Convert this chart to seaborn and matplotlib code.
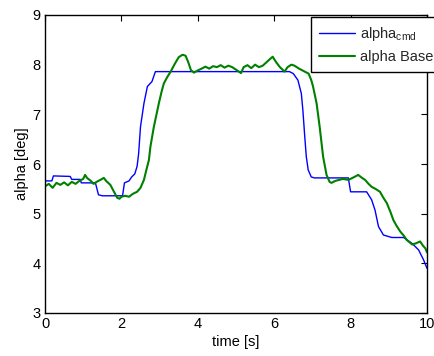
import matplotlib
matplotlib.use("Agg")
import matplotlib.pyplot as plt
import seaborn as sns
import pandas as pd

# ---- data ----
t_cmd = [0.0, 0.18, 0.22, 0.66, 0.70, 0.92, 0.95, 1.32, 1.40, 1.50, 2.03, 2.08, 2.20, 2.27,
         2.35, 2.41, 2.45, 2.50, 2.59, 2.68, 2.80, 2.89, 6.40, 6.50, 6.62, 6.71, 6.75, 6.80,
         6.84, 6.89, 6.97, 7.05, 7.94, 8.00, 8.42, 8.55, 8.64, 8.73, 8.86, 9.08, 9.39, 9.50,
         9.61, 9.78, 9.91, 10.0]
alpha_cmd = [5.66, 5.66, 5.76, 5.75, 5.69, 5.69, 5.62, 5.62, 5.38, 5.36, 5.36, 5.62, 5.66, 5.74,
             5.80, 5.95, 6.20, 6.75, 7.22, 7.56, 7.66, 7.86, 7.86, 7.82, 7.69, 7.42, 7.09, 6.55,
             6.15, 5.88, 5.74, 5.72, 5.72, 5.44, 5.44, 5.28, 5.07, 4.74, 4.57, 4.52, 4.52, 4.46,
             4.40, 4.27, 4.07, 3.90]

t_base = [0.0, 0.1, 0.2, 0.3, 0.4, 0.5, 0.6, 0.7, 0.8, 0.9, 1.0, 1.05, 1.1, 1.2, 1.27, 1.35,
          1.45, 1.54, 1.6, 1.71, 1.8, 1.89, 1.95, 2.0, 2.1, 2.2, 2.3, 2.41, 2.5, 2.59, 2.66,
          2.72, 2.76, 2.85, 2.98, 3.05, 3.11, 3.2, 3.29, 3.4, 3.5, 3.6, 3.68, 3.75, 3.82, 3.9,
          3.99, 4.1, 4.2, 4.3, 4.4, 4.5, 4.6, 4.7, 4.8, 4.9, 5.0, 5.13, 5.2, 5.3, 5.4, 5.5,
          5.6, 5.7, 5.8, 5.9, 5.96, 6.05, 6.15, 6.27, 6.35, 6.45, 6.53, 6.65, 6.8, 6.9, 6.97,
          7.02, 7.11, 7.19, 7.28, 7.37, 7.45, 7.5, 7.6, 7.7, 7.8, 7.94, 8.05, 8.2, 8.3, 8.38,
          8.47, 8.55, 8.65, 8.77, 8.85, 8.95, 9.05, 9.12, 9.2, 9.3, 9.4, 9.47, 9.55, 9.61,
          9.7, 9.82, 9.9, 9.96, 10.0]
alpha_base = [5.55, 5.60, 5.52, 5.62, 5.58, 5.63, 5.57, 5.64, 5.60, 5.66, 5.70, 5.78, 5.72, 5.66,
              5.60, 5.64, 5.68, 5.72, 5.66, 5.58, 5.45, 5.32, 5.30, 5.34, 5.36, 5.34, 5.40, 5.44,
              5.52, 5.68, 5.90, 6.08, 6.35, 6.75, 7.22, 7.45, 7.62, 7.75, 7.86, 8.02, 8.15, 8.20,
              8.18, 8.05, 7.89, 7.84, 7.88, 7.92, 7.96, 7.92, 7.97, 7.95, 7.99, 7.94, 7.98, 7.95,
              7.90, 7.83, 7.95, 7.99, 7.93, 8.00, 7.95, 7.98, 8.05, 8.12, 8.16, 8.05, 7.95, 7.86,
              7.95, 8.00, 7.98, 7.92, 7.86, 7.82, 7.69, 7.55, 7.22, 6.75, 6.15, 5.78, 5.64, 5.62,
              5.66, 5.68, 5.70, 5.68, 5.72, 5.78, 5.72, 5.68, 5.60, 5.54, 5.50, 5.44, 5.33, 5.21,
              5.02, 4.87, 4.76, 4.64, 4.55, 4.47, 4.42, 4.38, 4.40, 4.44, 4.35, 4.30, 4.22]

x_ticks = [0, 2, 4, 6, 8, 10]
y_ticks = [3, 4, 5, 6, 7, 8, 9]
labels = [r"alpha$_{\mathrm{cmd}}$", "alpha Base"]

df_cmd = pd.DataFrame({"t": t_cmd, "alpha": alpha_cmd})
df_base = pd.DataFrame({"t": t_base, "alpha": alpha_base})

sns.set_theme(style="white")
plt.rcParams["font.family"] = ["Liberation Sans", "DejaVu Sans"]
plt.rcParams["mathtext.fontset"] = "custom"
plt.rcParams["mathtext.rm"] = "Liberation Sans"

fig = plt.figure(figsize=(4.34, 3.56), dpi=100)
ax = fig.add_axes([45 / 434, 1 - 313 / 356, 382 / 434, 298 / 356])

sns.lineplot(data=df_cmd, x="t", y="alpha", ax=ax, color="#0000ff", linewidth=1.0,
             label=labels[0], estimator=None, sort=False)
sns.lineplot(data=df_base, x="t", y="alpha", ax=ax, color="#008000", linewidth=1.5,
             label=labels[1], estimator=None, sort=False)

ax.set_xlim(0, 10)
ax.set_ylim(3, 9)
ax.set_xticks(x_ticks)
ax.set_yticks(y_ticks)
ax.tick_params(direction="in", length=4, width=0.8, top=True, right=True,
               labelsize=10.5, colors="black", pad=3)
for s in ax.spines.values():
    s.set_visible(True)
    s.set_color("black")
    s.set_linewidth(1.0)
ax.set_xlabel("time [s]", fontsize=10.5, labelpad=3, color="black")
ax.set_ylabel("alpha [deg]", fontsize=10.5, labelpad=3, color="black")

leg = ax.legend(loc="upper left", bbox_to_anchor=(311 / 434, 1 - 17 / 356),
                bbox_transform=fig.transFigure, borderaxespad=0, fontsize=10.5,
                frameon=True, fancybox=False, framealpha=1, edgecolor="black",
                handlelength=2.5, handletextpad=0.3, borderpad=0.55, labelspacing=0.5)
leg.get_frame().set_linewidth(1.0)

fig.savefig("out.png", dpi=100)
